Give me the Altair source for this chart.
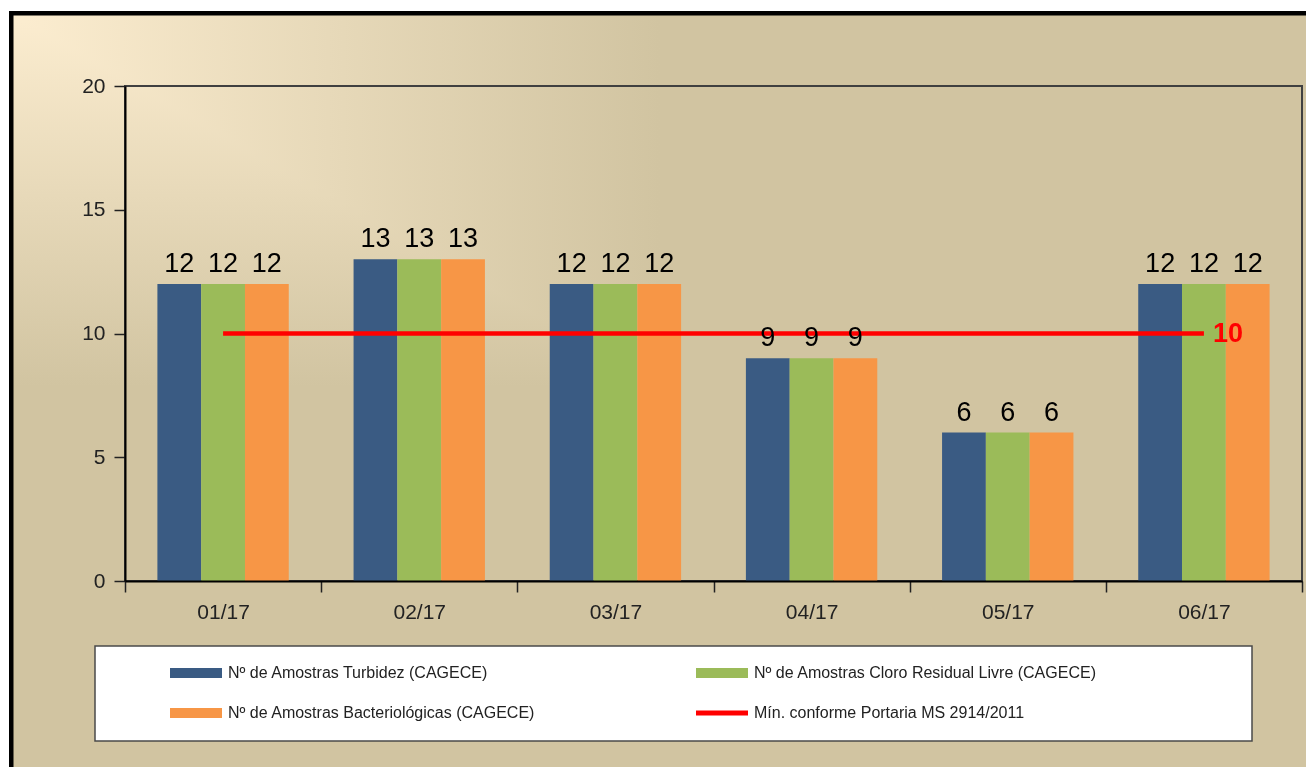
import altair as alt
import pandas as pd

months = ["01/17", "02/17", "03/17", "04/17", "05/17", "06/17"]
turbidez = [12, 13, 12, 9, 6, 12]
cloro = [12, 13, 12, 9, 6, 12]
bacterio = [12, 13, 12, 9, 6, 12]
minimo = 10

s_turb = "Nº de Amostras Turbidez (CAGECE)"
s_cloro = "Nº de Amostras Cloro Residual Livre (CAGECE)"
s_bact = "Nº de Amostras Bacteriológicas (CAGECE)"
s_min = "Mín. conforme Portaria MS 2914/2011"
bar_series = [s_turb, s_cloro, s_bact]
# legend order (filled column by column): Turbidez, Bacteriológicas | Cloro, Mín.
legend_order = [s_turb, s_bact, s_cloro, s_min]
legend_colors = ["#3A5B83", "#F79646", "#9BBB59", "#FF0000"]

rows = []
for i, m in enumerate(months):
    for name, vals in zip(bar_series, [turbidez, cloro, bacterio]):
        rows.append({"mes": m, "serie": name, "valor": vals[i]})
df = pd.DataFrame(rows)

df_rule = pd.DataFrame({"mes": [months[0]], "fim": [months[-1]],
                        "valor": [minimo], "serie": [s_min]})
one = pd.DataFrame({"k": [0]})

W, H = 1177, 495
FONT = "Liberation Sans"
LIGHT, TAN = "#FCEDD0", "#D1C4A1"

xscale = alt.Scale(paddingInner=0, paddingOuter=0)
xoff_scale = alt.Scale(paddingInner=0, paddingOuter=0.74)
yscale = alt.Scale(domain=[0, 20])

x_enc = alt.X("mes:N", sort=months, scale=xscale,
              axis=alt.Axis(title=None, tickBand="extent", labelAngle=0,
                            labelPadding=9, labelFontSize=21, zindex=1))
y_enc = alt.Y("valor:Q", scale=yscale,
              axis=alt.Axis(title=None, values=[0, 5, 10, 15, 20], grid=False,
                            labelPadding=9, labelFontSize=21, zindex=1))

BG = dict(x=alt.value(-113.75), x2=alt.value(1197),
          y=alt.value(-72.75), y2=alt.value(697))

bg_h = alt.Chart(one).mark_rect(
    fill=alt.LinearGradient(
        gradient="linear",
        stops=[alt.GradientStop(color=LIGHT, offset=0),
               alt.GradientStop(color=TAN, offset=0.495),
               alt.GradientStop(color=TAN, offset=1)],
        x1=0, x2=1, y1=0, y2=0),
).encode(**BG)

bg_v = alt.Chart(one).mark_rect(
    blend="darken",
    fill=alt.LinearGradient(
        gradient="linear",
        stops=[alt.GradientStop(color=LIGHT, offset=0),
               alt.GradientStop(color=TAN, offset=0.485),
               alt.GradientStop(color=TAN, offset=1)],
        x1=0, x2=0, y1=0, y2=1),
).encode(**BG)

outer = alt.Chart(one).mark_rect(
    fill="transparent", stroke="#000000", strokeWidth=4.5
).encode(**BG)

legend_box = alt.Chart(one).mark_rect(
    fill="#FFFFFF", stroke="#4A4A4A", strokeWidth=1.5
).encode(x=alt.value(-30), x2=alt.value(1127),
         y=alt.value(560), y2=alt.value(655))

frame = alt.Chart(one).mark_rect(
    fill="transparent", stroke="#404040", strokeWidth=2
).encode(x=alt.value(0), x2=alt.value(W), y=alt.value(0), y2=alt.value(H))

shape_expr = ("datum.value == '" + s_min +
              "' ? 'M-1,-0.1H1V0.1H-1Z' : 'M-1,-0.19H1V0.19H-1Z'")

bars = alt.Chart(df).mark_bar().encode(
    x=x_enc,
    xOffset=alt.XOffset("serie:N", sort=bar_series, scale=xoff_scale),
    y=y_enc,
    color=alt.Color("serie:N",
                    scale=alt.Scale(domain=legend_order, range=legend_colors),
                    legend=alt.Legend(
                        title=None, orient="none", legendX=45, legendY=561,
                        columns=2, columnPadding=160, rowPadding=6,
                        symbolType={"expr": shape_expr}, symbolSize=2704,
                        symbolStrokeWidth=0, symbolOpacity=1,
                        labelOffset=6, labelFont=FONT, labelFontSize=16,
                        labelColor="#222222", labelLimit=600, padding=0)),
)

labels = alt.Chart(df).mark_text(
    dy=-12, baseline="alphabetic", fontSize=27, font=FONT, color="#000000"
).encode(
    x=alt.X("mes:N", sort=months),
    xOffset=alt.XOffset("serie:N", sort=bar_series),
    y="valor:Q",
    text="valor:Q",
)

rule = alt.Chart(df_rule).mark_rule(color="#FF0000", strokeWidth=4.5).encode(
    x=alt.X("mes:N", sort=months),
    x2="fim:N",
    y="valor:Q",
)

rule_label = alt.Chart(df_rule).mark_text(
    align="left", baseline="middle", dx=9, fontSize=27, fontWeight="bold",
    font=FONT, color="#FF0000"
).encode(
    x=alt.X("fim:N", sort=months),
    y="valor:Q",
    text="valor:Q",
)

chart = alt.layer(bg_h, bg_v, outer, legend_box, frame, bars, rule, labels,
                  rule_label).properties(
    width=W, height=H,
    autosize=alt.AutoSizeParams(type="none"),
    padding={"left": 125, "top": 86, "right": 4, "bottom": 186},
    background="#FFFFFF",
).configure_view(stroke=None).configure_axis(
    domainColor="#000000", domainWidth=2, tickColor="#222222", tickWidth=1.5,
    tickSize=11, labelFont=FONT, labelColor="#222222",
)

chart.save("out.html", embed_options={"renderer": "svg", "actions": False})
